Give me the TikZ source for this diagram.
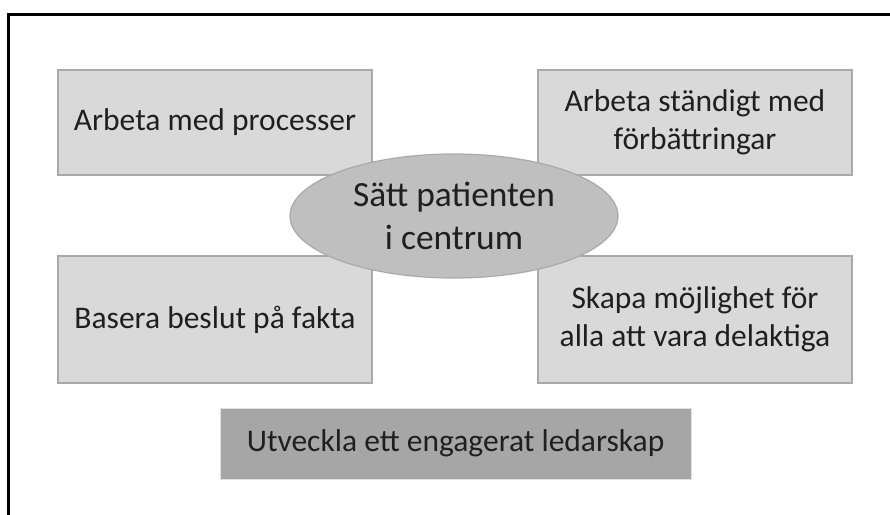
\documentclass[tikz,border=0pt]{standalone}
\usepackage{fontspec}
\setmainfont{Carlito}
\usetikzlibrary{shapes.geometric}
\definecolor{boxfill}{HTML}{D9D9D9}
\definecolor{boxline}{HTML}{A9A9A9}
\definecolor{ellfill}{HTML}{BFBFBF}
\definecolor{darkfill}{HTML}{A6A6A6}
\tikzset{
  lightbox/.style={draw=boxline, fill=boxfill, line width=1.2pt, minimum width=314pt, minimum height=105pt, inner sep=0pt, align=center, font=\fontsize{31.5}{37.5}\selectfont, text=black!88},
  darkbox/.style={draw=black!12, fill=darkfill, line width=1pt, minimum width=471pt, minimum height=71pt, inner sep=0pt, align=center, font=\fontsize{31.5}{37.5}\selectfont, text=black!88},
  centre/.style={ellipse, draw=boxline, fill=ellfill, line width=1.2pt, minimum width=328pt, minimum height=124pt, inner sep=0pt, align=center, font=\fontsize{35.4}{43}\selectfont, text=black!88},
}
\begin{document}
\begin{tikzpicture}[x=1pt, y=-1pt]
\useasboundingbox (0,0) rectangle (890,514);
\draw[line width=3pt] (8.7,600) -- (8.7,14) -- (900,14);
\node[lightbox, minimum height=105pt] (tl) at (215,122.5) {Arbeta med processer};
\node[lightbox, minimum height=105pt] (tr) at (695,122.5) {Arbeta ständigt med\\förbättringar};
\node[lightbox, minimum height=127pt] (bl) at (215,319.5) {Basera beslut på fakta};
\node[lightbox, minimum height=127pt] (br) at (695,319.5) {Skapa möjlighet för\\alla att vara delaktiga};
\node[centre] (c) at (454,216) {Sätt patienten\\i centrum};
\node[darkbox] (b) at (455.5,443.5) {Utveckla ett engagerat ledarskap};
\end{tikzpicture}
\end{document}
